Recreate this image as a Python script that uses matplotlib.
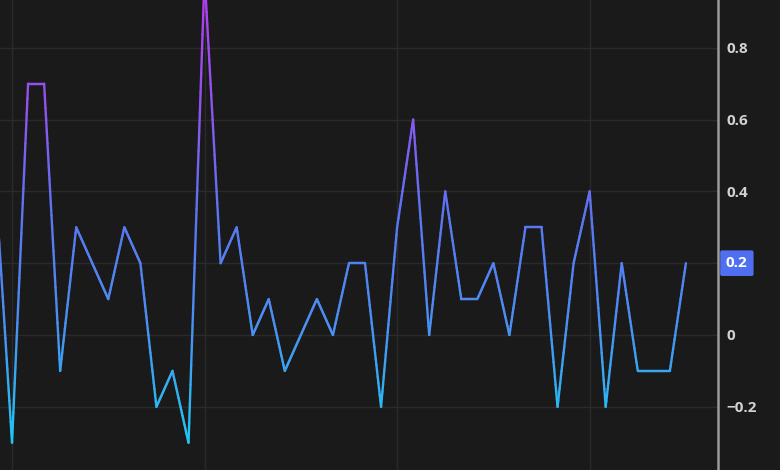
"""
plot.py
Dark oscillator-style line chart with a vertical colour gradient.
"""

import matplotlib
matplotlib.use('Agg')
import matplotlib.pyplot as plt
import numpy as np
from matplotlib.collections import LineCollection
from matplotlib.colors import LinearSegmentedColormap, Normalize
import matplotlib.transforms as mtransforms

# values, first one sits just left of the frame
VALUES = [0.4, -0.3, 0.7, 0.7, -0.1, 0.3, 0.2, 0.1, 0.3, 0.2, -0.2, -0.1,
          -0.3, 1.0, 0.2, 0.3, 0.0, 0.1, -0.1, 0.0, 0.1, 0.0, 0.2, 0.2,
          -0.2, 0.3, 0.6, 0.0, 0.4, 0.1, 0.1, 0.2, 0.0, 0.3, 0.3, -0.2,
          0.2, 0.4, -0.2, 0.2, -0.1, -0.1, -0.1, 0.2]
X_START = -1
Y_TICKS = [-0.2, 0.0, 0.2, 0.4, 0.6, 0.8]
Y_TICK_LABELS = ['\u22120.2', '0', '', '0.4', '0.6', '0.8']
V_GRID = [0, 12, 24, 36]
LAST_LABEL = '0.2'

BG = '#1a1a1a'
GRID = '#2a2a2a'
TXT = '#d2d2d2'
CMAP = LinearSegmentedColormap.from_list(
    'osc', ['#1fc8f2', '#4a90f2', '#5c74f2', '#9450f0', '#b83af0'])


def gradient_line(ax, x, y, norm, lw=1.7, steps=24):
    # split each segment so the colour follows the height smoothly
    segs, cols = [], []
    for i in range(len(x) - 1):
        t = np.linspace(0, 1, steps + 1)
        xs = x[i] + (x[i + 1] - x[i]) * t
        ys = y[i] + (y[i + 1] - y[i]) * t
        pts = np.column_stack([xs, ys])
        segs.extend(np.stack([pts[:-1], pts[1:]], axis=1))
        cols.extend((ys[:-1] + ys[1:]) / 2)
    lc = LineCollection(segs, cmap=CMAP, norm=norm, linewidths=lw,
                        capstyle='round', joinstyle='round', zorder=3)
    lc.set_array(np.array(cols))
    ax.add_collection(lc)


fig = plt.figure(figsize=(7.8, 4.7), dpi=100, facecolor=BG)
ax = fig.add_axes([0, 0, 718 / 780, 1], facecolor=BG)

x = np.arange(X_START, X_START + len(VALUES))
y = np.array(VALUES)
gradient_line(ax, x, y, Normalize(-0.3, 1.0))

ax.set_xlim(-0.75, 44.0)
ax.set_ylim(-0.376, 0.933)

for v in Y_TICKS:
    ax.axhline(v, color=GRID, lw=1.0, zorder=1)
for v in V_GRID:
    ax.axvline(v, color=GRID, lw=1.0, zorder=1)

for side in ['left', 'top', 'bottom']:
    ax.spines[side].set_visible(False)
ax.spines['right'].set_color('#9a9a9a')
ax.spines['right'].set_linewidth(1.8)

ax.set_xticks([])
ax.yaxis.tick_right()
ax.set_yticks(Y_TICKS)
ax.set_yticklabels(Y_TICK_LABELS)
ax.tick_params(axis='y', length=0, pad=6, colors=TXT, labelsize=11)
for lab in ax.get_yticklabels():
    lab.set_fontfamily('Open Sans')
    lab.set_fontweight('bold')

trans = mtransforms.blended_transform_factory(ax.transAxes, ax.transData)
ax.text(1.0 + 8 / 718, VALUES[-1], LAST_LABEL, transform=trans,
        ha='left', va='center', color='white', fontsize=11,
        family='Open Sans', weight='bold', clip_on=False,
        bbox=dict(boxstyle='round,pad=0.38,rounding_size=0.12',
                  fc='#4f6ff0', ec='none'))

fig.savefig('out.png', dpi=100, facecolor=BG)
